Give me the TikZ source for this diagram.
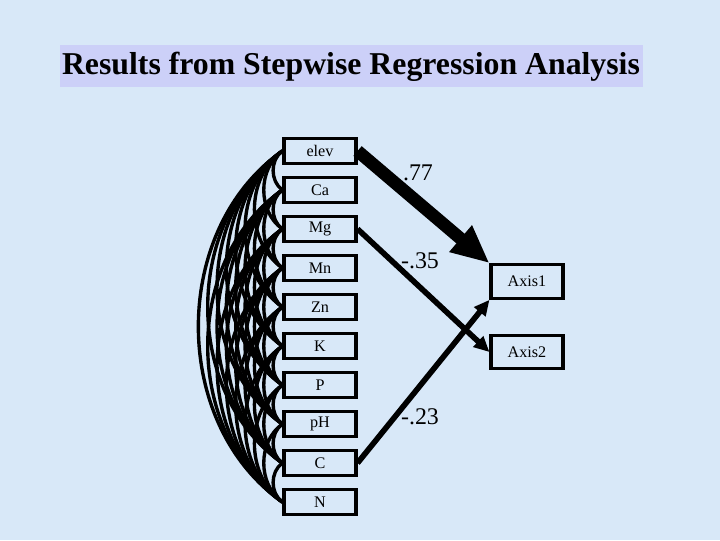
\documentclass[tikz,border=0pt]{standalone}
\usepackage{fontspec}
\setmainfont{Liberation Serif}
\usetikzlibrary{arrows.meta}

\definecolor{slidebg}{RGB}{216,232,248}
\definecolor{titlebg}{RGB}{204,208,248}

\tikzset{
  varbox/.style={draw, line width=2.2pt, minimum width=1.8cm, minimum height=0.64cm,
                 inner sep=0pt, font=\fontsize{11.5}{13}\selectfont},
  axisbox/.style={varbox, minimum height=0.84cm},
  coef/.style={font=\fontsize{17}{20}\selectfont},
  corr/.style={line width=2.4pt, bend right=55},
  path/.style={line width=4pt, -{Triangle[length=11pt, width=10pt]}}
}

\begin{document}
\begin{tikzpicture}[x=0.025cm, y=-0.025cm]

    % ============================================================
    % SLIDE BACKGROUND AND TITLE
    % ============================================================
    \fill[slidebg] (0,0) rectangle (720,540);
    \useasboundingbox (0,0) rectangle (720,540);
    \fill[titlebg] (60,45) rectangle (643,87);
    \node[font=\bfseries\fontsize{22.6}{26}\selectfont] (title) at (351,67)
        {Results from Stepwise Regression Analysis};

    % ============================================================
    % PREDICTORS
    % ============================================================
    \foreach \lab [count=\i] in {elev,Ca,Mg,Mn,Zn,K,P,pH,C,N}
        \node[varbox] (v\i) at (320, {151+39*(\i-1)}) {\lab};

    % ============================================================
    % OUTCOMES
    % ============================================================
    \node[axisbox] (ax1) at (527,281.5) {Axis1};
    \node[axisbox] (ax2) at (527,352) {Axis2};

    % ============================================================
    % CORRELATIONS AMONG PREDICTORS
    % ============================================================
    \foreach \i in {1,...,9} {
        \pgfmathtruncatemacro{\k}{\i+1}
        \foreach \j in {\k,...,10}
            \draw[corr] (v\i.west) to (v\j.west);
    }

    % ============================================================
    % STEPWISE PATHS
    % ============================================================
    \draw[line width=9pt, -{Triangle[length=27pt, width=23pt]}]
        (v1.east) -- (ax1.north west);
    \draw[path] (v3.east) -- (ax2.west);
    \draw[path] (v9.east) -- (ax1.south west);

    \node[coef] (c77) at (418,173) {.77};
    \node[coef] (c35) at (420,261) {-.35};
    \node[coef] (c23) at (420,417) {-.23};

\end{tikzpicture}
\end{document}
